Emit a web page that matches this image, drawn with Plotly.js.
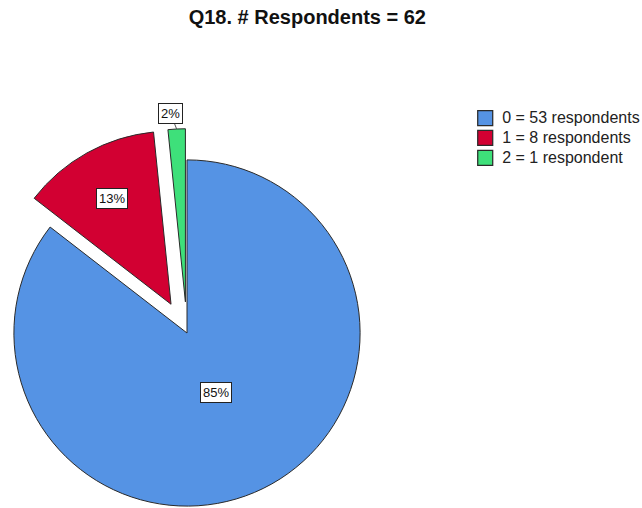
<!DOCTYPE html>
<html>
<head>
<meta charset="utf-8">
<script src="https://cdn.plot.ly/plotly-3.0.1.min.js"></script>
<style>
  html, body { margin: 0; padding: 0; overflow: hidden; background: #fff; }
  #plot { position: absolute; left: -22px; top: 0; width: 664px; height: 545px; }
  /* SPSS legend rows are tight: keep the 13px row pitch but draw the text larger */
  #plot .legend .legendtext { font-size: 16px !important; }
  #plot .legend .scrollbox { clip-path: none !important; }
  #plot .legend .legendpoints path { transform: translate(23px, 0) scale(1.25); }
</style>
</head>
<body>
<div id="plot"></div>
<script>
// Q18 answers
var answers = ["0", "1", "2"];
var respondents = [53, 8, 1];
var pulls = [0, 0.19, 0.18];
var colors = ["#5593E4", "#D20032", "#3EE07A"];

var total = respondents.reduce(function (a, b) { return a + b; }, 0);
var legendLabels = answers.map(function (a, i) {
    return a + " = " + respondents[i] + " respondent" + (respondents[i] === 1 ? "" : "s");
});

var trace = {
    type: "pie",
    labels: legendLabels,
    values: respondents,
    sort: false,
    direction: "clockwise",
    rotation: 0,
    pull: pulls,
    textinfo: "none",
    hoverinfo: "label+percent",
    marker: { colors: colors, line: { color: "#2a2a2a", width: 1 } },
    domain: { x: [0, 1], y: [0, 1] }
};

// percent labels placed from the slice angles (paper units, pie box is square)
var maxPull = Math.max.apply(null, pulls);
var rp = 0.5 / (1 + maxPull);
var labelRadius = [0.38, 0.70, 1.0];
var annotations = [];
var cum = 0;
respondents.forEach(function (v, i) {
    var mid = 2 * Math.PI * (cum + v / 2) / total;
    cum += v;
    var d = (pulls[i] + labelRadius[i]) * rp;
    var pct = Math.round(100 * v / total) + "%";
    var ann = {
        xref: "paper", yref: "paper",
        x: 0.5 + d * Math.sin(mid),
        y: 0.5 + d * Math.cos(mid),
        xanchor: "center", yanchor: "middle",
        text: pct,
        showarrow: false,
        font: { family: "Liberation Sans, Arial", size: 13, color: "#111" },
        bgcolor: "#fff",
        bordercolor: "#222",
        borderwidth: 1,
        borderpad: 2
    };
    if (i === 2) {
        ann.showarrow = true;
        ann.arrowhead = 0;
        ann.arrowwidth = 1;
        ann.arrowcolor = "#555";
        ann.ax = -6;
        ann.ay = -15;
    }
    annotations.push(ann);
});

var layout = {
    width: 664,
    height: 545,
    margin: { l: 3, r: 249, t: 127, b: 6, autoexpand: false },
    paper_bgcolor: "#fff",
    font: { family: "Liberation Sans, Arial", color: "#222" },
    title: {
        text: "<b>Q18. # Respondents = 62</b>",
        font: { family: "Liberation Sans, Arial", size: 20, color: "#111" },
        xref: "container", yref: "container",
        x: 0.496, xanchor: "center",
        y: 0.969, yanchor: "middle"
    },
    showlegend: true,
    legend: {
        x: 1.168, xanchor: "left",
        y: 1.058, yanchor: "top",
        font: { size: 13, color: "#222" },
        bgcolor: "rgba(0,0,0,0)"
    },
    annotations: annotations
};

Plotly.newPlot("plot", [trace], layout, { displayModeBar: false, staticPlot: true });
</script>
</body>
</html>
